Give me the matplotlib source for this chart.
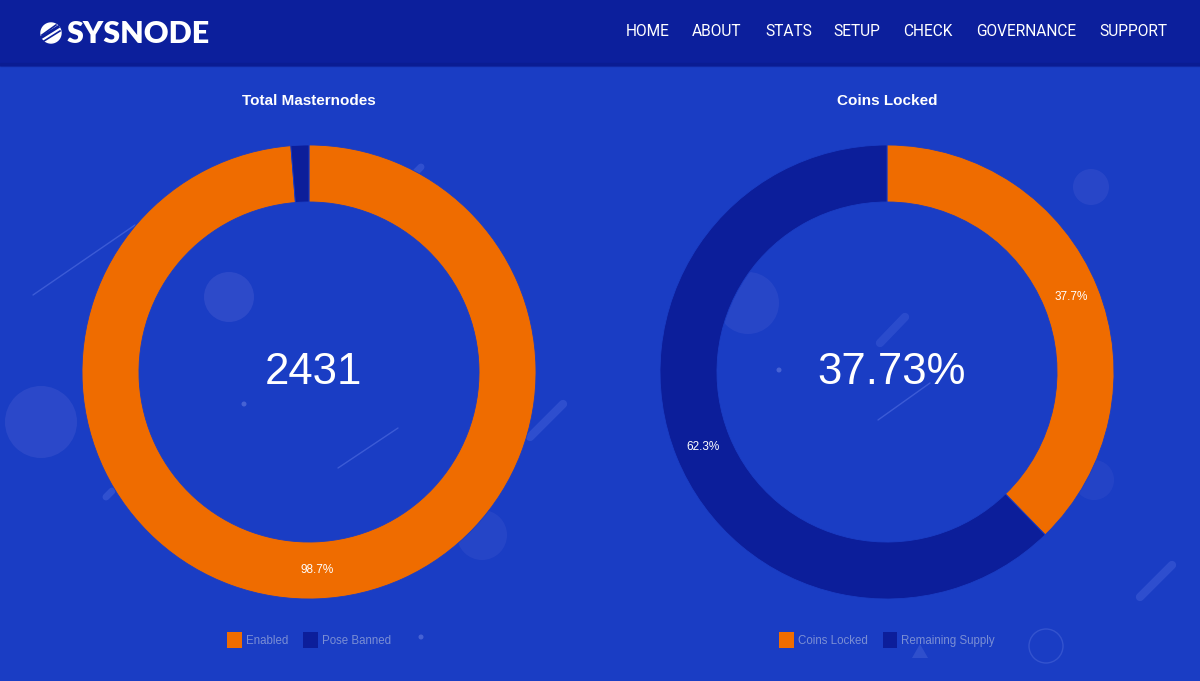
import matplotlib
matplotlib.use("Agg")
import matplotlib.pyplot as plt
from matplotlib.patches import Rectangle, Circle, Polygon, Patch

# ---- data ----
mn_labels = ["Enabled", "Pose Banned"]
mn_values = [2400, 31]
mn_total = "2431"

coins_labels = ["Coins Locked", "Remaining Supply"]
coins_values = [37.73, 62.27]
coins_center = "37.73%"

titles = ["Total Masternodes", "Coins Locked"]
nav_items = ["HOME", "ABOUT", "STATS", "SETUP", "CHECK", "GOVERNANCE", "SUPPORT"]
nav_x = [626, 692, 765, 833, 903, 976, 1099]

# ---- style ----
BG = "#1a3dc4"
HEADER = "#0c1f9c"
ORANGE = "#ef6c00"
NAVY = "#0c1e9a"
LEGEND_TXT = "#7a8ed4"
plt.rcParams["font.family"] = ["Liberation Sans", "DejaVu Sans"]

W, H = 1200, 681
fig = plt.figure(figsize=(W / 100, H / 100), dpi=100, facecolor=BG)

# background / decoration axes in pixel coordinates
bg = fig.add_axes([0, 0, 1, 1])
bg.set_xlim(0, W)
bg.set_ylim(H, 0)
bg.axis("off")
bg.add_patch(Rectangle((0, 0), W, 65, color=HEADER, zorder=1))
bg.add_patch(Rectangle((0, 63), W, 3, color="#0a1a8a", alpha=0.4, zorder=1))

deco_circles = [((41, 422), 36, 0.18), ((229, 297), 25, 0.2), ((1091, 187), 18, 0.15),
                ((748, 303), 31, 0.14), ((482, 535), 25, 0.12), ((1094, 480), 20, 0.1)]
for (cx, cy), r, a in deco_circles:
    bg.add_patch(Circle((cx, cy), r, color="#7a7fe0", alpha=a, lw=0, zorder=0.5))
bg.add_patch(Circle((1046, 646), 17, fill=False, ec="#6f86e6", alpha=0.3, lw=1, zorder=0.5))
bg.add_patch(Polygon([[912, 658], [928, 658], [920, 644]], color="#6f86e6", alpha=0.25, lw=0, zorder=0.5))
deco_lines = [((33, 295), (135, 225), 1, 0.3), ((338, 468), (398, 428), 1, 0.3),
              ((878, 420), (930, 383), 1, 0.3), ((530, 437), (563, 404), 6, 0.18),
              ((1140, 597), (1172, 565), 6, 0.18), ((880, 343), (905, 317), 6, 0.15),
              ((413, 175), (421, 167), 5, 0.2), ((106, 497), (112, 491), 5, 0.2)]
for (x0, y0), (x1, y1), lw, a in deco_lines:
    bg.plot([x0, x1], [y0, y1], color="#8aa0ff", alpha=a, lw=lw, solid_capstyle="round", zorder=0.5)
for (cx, cy) in [(244, 404), (779, 370), (421, 637)]:
    bg.add_patch(Circle((cx, cy), 2.5, color="#7d90e8", alpha=0.45, lw=0, zorder=0.5))

# logo
bg.add_patch(Circle((51, 33), 10, color="white", zorder=2))
bg.plot([42, 58], [37, 27], color=HEADER, lw=2.2, zorder=3)
bg.plot([44, 60], [41, 31], color=HEADER, lw=1.2, zorder=3)
bg.plot([42, 56], [35, 25], color=HEADER, lw=1.2, zorder=3)
bg.text(67, 34, "SYSNODE", color="white", fontsize=22, fontweight="heavy",
        family=["Lato", "DejaVu Sans"], va="center", ha="left", zorder=3)
for name, x in zip(nav_items, nav_x):
    bg.text(x, 31, name, color="white", fontsize=11.2, family=["Roboto", "DejaVu Sans"],
            va="center", ha="left", zorder=3)


def donut(cx, cy, values, labels, center, title, legend_x):
    R = 227
    ax = fig.add_axes([(cx - R) / W, (H - cy - R) / H, 2 * R / W, 2 * R / H])
    ax.set_zorder(2)
    ax.patch.set_alpha(0)
    wedges, _, autotexts = ax.pie(
        values, colors=[ORANGE, NAVY], startangle=90, counterclock=False, radius=1,
        wedgeprops=dict(width=0.251, edgecolor=BG, linewidth=0.6),
        autopct=lambda p: ("%1.1f%%" % p) if p >= 5 else "", pctdistance=0.874,
        textprops=dict(color="white", fontsize=8.5))
    ax.set_xlim(-1, 1)
    ax.set_ylim(-1, 1)
    ax.set_aspect("equal")
    ax.axis("off")
    ax.text(0.018, -0.003, center, color="white", fontsize=31.5, ha="center", va="center",
            family=["Liberation Sans", "DejaVu Sans"])
    bg.text(cx, 101, title, color="white", fontsize=11, fontweight="bold",
            ha="center", va="center", zorder=3)
    handles = [Patch(facecolor=c, edgecolor="none") for c in (ORANGE, NAVY)]
    fig.legend(handles, labels, ncol=2, frameon=False, loc="center",
               bbox_to_anchor=(legend_x / W, 1 - 640 / H), fontsize=8.3,
               labelcolor=LEGEND_TXT, handlelength=1.25, handleheight=1.7,
               handletextpad=0.35, columnspacing=1.3)


donut(309, 372, mn_values, mn_labels, mn_total, titles[0], 309)
donut(887, 372, coins_values, coins_labels, coins_center, titles[1], 887)

fig.savefig("out.png", dpi=100, facecolor=BG)
